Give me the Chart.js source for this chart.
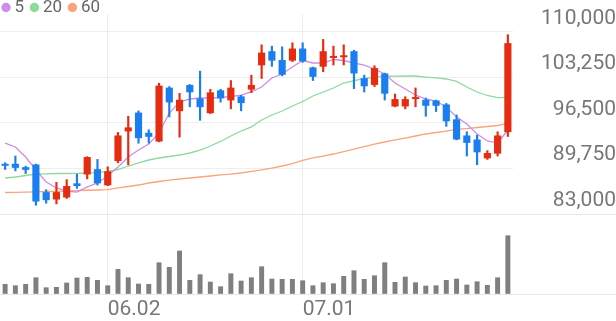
<!DOCTYPE html>
<html>
<head>
<meta charset="utf-8">
<script src="https://cdn.jsdelivr.net/npm/chart.js@4.4.1/dist/chart.umd.min.js"></script>
<style>
  html, body { margin: 0; padding: 0; background: #fff; }
  canvas { display: block; }
</style>
</head>
<body>
<canvas id="chart" width="616" height="321"></canvas>
<script>
// trading days shown on the chart
const dates = [
  '05.19', '05.20', '05.21', '05.22', '05.23', '05.26', '05.27', '05.28', '05.29', '05.30',
  '06.02', '06.04', '06.05', '06.09', '06.10', '06.11', '06.12', '06.13', '06.16', '06.17',
  '06.18', '06.19', '06.20', '06.23', '06.24', '06.25', '06.26', '06.27', '06.30', '07.01',
  '07.02', '07.03', '07.04', '07.07', '07.08', '07.09', '07.10', '07.11', '07.14', '07.15',
  '07.16', '07.17', '07.18', '07.21', '07.22', '07.23', '07.24', '07.25', '07.28', '07.29'
];
const markedDates = ['06.02', '07.01'];

const opens = [
  90400, 90400, 89900, 90300, 86200, 85200, 85500, 87500, 88900, 89600,
  87300, 90900, 95300, 98000, 95000, 93800, 101700, 98300, 102100, 100100,
  98000, 101300, 99900, 100400, 101500, 105100, 107100, 105800, 105800, 107500,
  104700, 104900, 106200, 106300, 107100, 103100, 102200, 103800, 99000, 99000,
  100100, 99900, 99800, 99200, 97000, 94600, 94000, 91300, 92000, 95200
];
const highs = [
  90600, 91600, 90100, 90400, 86600, 87700, 88100, 88900, 91500, 91100,
  90000, 95100, 97500, 98300, 95500, 102400, 101900, 100900, 102200, 104200,
  101500, 101500, 102800, 100600, 103600, 108100, 107900, 107800, 108400, 108400,
  104800, 108900, 107900, 108100, 107300, 103600, 105000, 103900, 100800, 100400,
  101700, 100200, 99900, 99400, 97700, 95200, 94700, 92400, 95200, 109600
];
const lows = [
  89600, 89400, 89000, 84300, 84600, 84500, 85300, 86800, 88200, 87300,
  87200, 90600, 90300, 93500, 93500, 93700, 97400, 94400, 98900, 96900,
  97900, 99600, 98600, 98300, 101000, 103100, 104900, 103500, 105600, 105500,
  102800, 104100, 105100, 105100, 101600, 101100, 101900, 99900, 98900, 98600,
  98900, 97500, 98200, 96000, 94000, 91600, 90300, 91100, 91600, 94500
];
const closes = [
  90200, 89900, 89600, 84900, 85100, 86200, 87100, 87200, 91400, 87600,
  89300, 94600, 95800, 94300, 94500, 102000, 99600, 99900, 101100, 98900,
  101000, 100200, 101700, 99500, 102100, 106900, 105800, 103700, 107500, 105700,
  103400, 107100, 106400, 106500, 103900, 102000, 104600, 100900, 100000, 100000,
  100300, 99100, 99100, 96800, 94100, 93600, 92200, 92000, 94600, 108300
];

// moving averages
const ma5 = [
  93530, 92940, 91460, 89530, 87750, 86860, 86410, 86260, 87010, 87600,
  88640, 89970, 91460, 92490, 93380, 95020, 97980, 99620, 100060, 100210,
  100210, 100280, 100430, 100650, 101100, 101840, 103180, 103770, 104810, 105770,
  105400, 105400, 105920, 105770, 105400, 105100, 104510, 103770, 102430, 101540,
  100650, 100060, 99760, 98870, 97390, 96350, 94870, 93830, 93530, 95460
];
const ma20 = [
  88340, 88490, 88710, 88930, 88960, 89010, 89010, 89040, 89080, 89130,
  89310, 89600, 90120, 90570, 91010, 91310, 91530, 91750, 92050, 92490,
  93090, 93760, 94570, 95310, 95910, 96950, 97690, 98280, 99020, 99690,
  100510, 101100, 101690, 102430, 102800, 103100, 103320, 103400, 103440, 103470,
  103470, 103320, 103180, 103030, 102660, 101840, 101100, 100580, 100250, 100280
];
const ma60 = [
  86190, 86220, 86260, 86290, 86340, 86370, 86410, 86460, 86520, 86560,
  86630, 86860, 87080, 87300, 87600, 87820, 88040, 88190, 88340, 88490,
  88640, 88790, 88930, 89080, 89310, 89530, 89820, 90120, 90490, 90940,
  91310, 91600, 91900, 92270, 92640, 93010, 93380, 93680, 93980, 94270,
  94570, 94870, 95090, 95310, 95540, 95680, 95830, 95980, 96130, 96430
];

// volume, thousand shares
const volumes = [
  97, 83, 97, 163, 63, 67, 110, 160, 167, 137,
  83, 247, 163, 100, 97, 313, 267, 430, 137, 193,
  120, 73, 203, 130, 163, 273, 150, 147, 147, 133,
  83, 113, 103, 177, 233, 147, 183, 313, 117, 170,
  113, 80, 83, 137, 150, 90, 123, 87, 163, 583
];

const priceTicks = [83000, 89750, 96500, 103250, 110000];
const priceMin = 83000;
const priceMax = 112670;
const volumeMax = 800;

const UP = '#e62c10';
const DOWN = '#1a7ef0';
const candleColors = closes.map((c, i) => c >= opens[i] ? UP : DOWN);

const maLines = [
  { label: '5', data: ma5, color: '#cf8de8' },
  { label: '20', data: ma20, color: '#8ed99b' },
  { label: '60', data: ma60, color: '#f8a57c' }
];

Chart.defaults.font.family = 'Roboto';
Chart.defaults.color = '#777';

const lineDatasets = maLines.map(ma => ({
  type: 'line',
  label: ma.label,
  data: ma.data,
  borderColor: ma.color,
  backgroundColor: ma.color,
  borderWidth: 1.3,
  pointRadius: 0,
  tension: 0,
  yAxisID: 'y',
  order: 3
}));

const ctx = document.getElementById('chart');

new Chart(ctx, {
  type: 'bar',
  data: {
    labels: dates,
    datasets: [
      ...lineDatasets,
      {
        label: 'wick',
        data: lows.map((l, i) => [l, highs[i]]),
        backgroundColor: candleColors,
        barThickness: 1.5,
        grouped: false,
        yAxisID: 'y',
        order: 2
      },
      {
        label: 'body',
        data: opens.map((o, i) => [o, closes[i]]),
        backgroundColor: candleColors,
        barThickness: 6.5,
        minBarLength: 1,
        grouped: false,
        yAxisID: 'y',
        order: 1
      },
      {
        label: 'volume',
        data: volumes,
        backgroundColor: '#7f7f7f',
        barThickness: 4.3,
        grouped: false,
        yAxisID: 'v',
        order: 4
      }
    ]
  },
  options: {
    responsive: false,
    animation: false,
    events: [],
    // legend sits in the top strip, the plot starts right under it
    layout: { autoPadding: false, padding: { top: -7, left: 0, right: 0, bottom: 0 } },
    plugins: {
      tooltip: { enabled: false },
      legend: {
        position: 'top',
        align: 'start',
        maxHeight: 21,
        labels: {
          usePointStyle: true,
          pointStyle: 'circle',
          boxWidth: 0.1,
          boxHeight: 5.7,
          padding: 6,
          color: '#666',
          font: { size: 17 },
          // only the moving averages go in the legend
          generateLabels: chart => Chart.defaults.plugins.legend.labels.generateLabels(chart)
            .filter(item => maLines.some(ma => ma.label === item.text))
            .map(item => ({ ...item, text: item.text + ' ' }))
        }
      }
    },
    scales: {
      x: {
        offset: true,
        grid: { offset: false, color: '#ececec', drawTicks: false },
        border: { display: false },
        ticks: {
          align: 'start',
          autoSkip: false,
          maxRotation: 0,
          padding: 3,
          color: '#777',
          font: { size: 21 }
        },
        afterBuildTicks: scale => {
          scale.ticks = scale.ticks.filter(t => markedDates.includes(dates[t.value]));
        },
        afterFit: scale => { scale.height = 27; }
      },
      y: {
        position: 'right',
        stack: 'main',
        stackWeight: 200,
        weight: 1,
        min: priceMin,
        max: priceMax,
        afterBuildTicks: scale => {
          scale.ticks = priceTicks.map(v => ({ value: v }));
        },
        grid: { color: '#eeeeee', drawTicks: true, tickLength: 24, tickColor: 'rgba(0,0,0,0)' },
        border: { display: false },
        ticks: {
          align: 'start',
          crossAlign: 'far',
          padding: 0,
          labelOffset: -24,
          color: '#777',
          font: { size: 21 },
          callback: v => v.toLocaleString('en-US')
        },
        afterFit: scale => { scale.width = 103; }
      },
      v: {
        position: 'right',
        stack: 'main',
        stackWeight: 80,
        weight: 2,
        min: 0,
        max: volumeMax,
        afterBuildTicks: scale => {
          scale.ticks = [{ value: 0 }, { value: volumeMax }];
        },
        grid: { color: '#e8e8e8', drawTicks: true, tickLength: 103 },
        border: { display: false },
        ticks: { display: false },
        afterFit: scale => { scale.width = 103; }
      }
    }
  }
});
</script>
</body>
</html>
